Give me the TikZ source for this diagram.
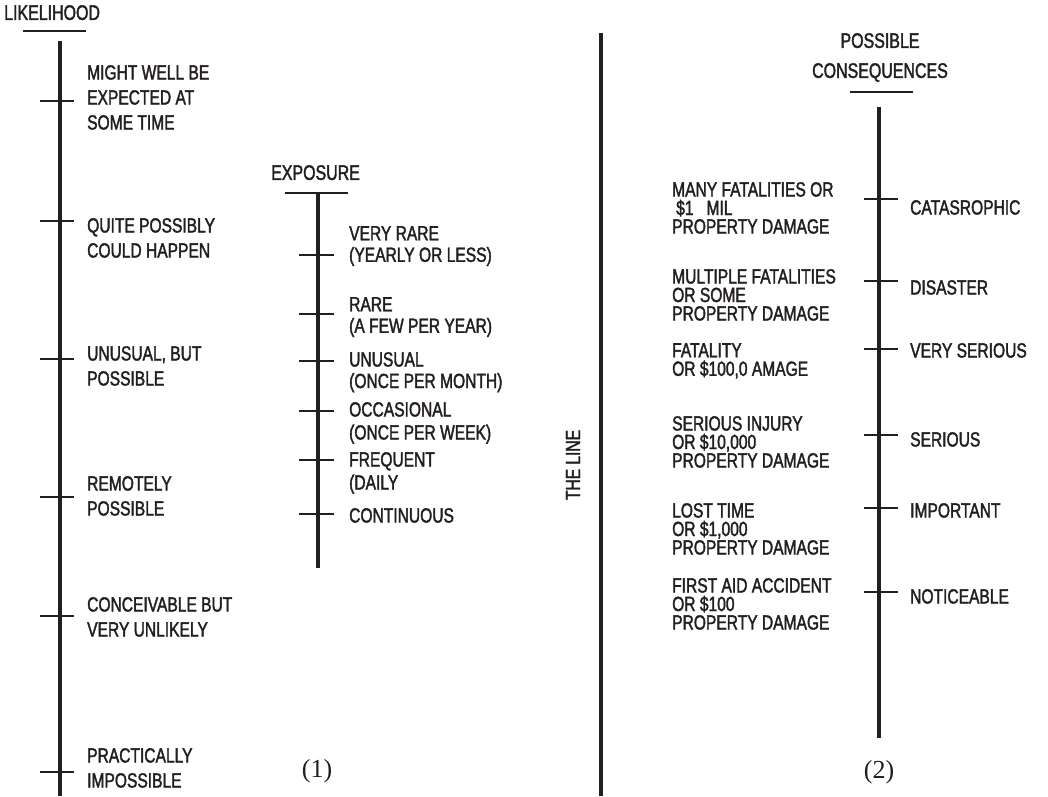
\documentclass[tikz,border=0pt]{standalone}
\usepackage{fontspec}
\setmainfont[FakeStretch=0.76,FakeBold=1.8]{Liberation Sans}
\newfontfamily\numserif{Liberation Serif}
\definecolor{ink}{HTML}{231F20}
\begin{document}
\begin{tikzpicture}[x=1pt,y=-1pt,
  axis/.style={line width=3.8pt,draw=ink},
  tickmark/.style={line width=1.2pt,draw=ink},
  bar/.style={line width=2.2pt,draw=ink},
  lab/.style={anchor=north west,inner sep=0pt,align=left,text=ink,font=\fontsize{20.5}{25}\selectfont},
  labx/.style={lab,font=\fontsize{20.5}{21.5}\selectfont},
  labc/.style={lab,font=\fontsize{20.5}{18.5}\selectfont},
  head/.style={lab,font=\fontsize{21}{30}\selectfont},
  num/.style={inner sep=0pt,text=ink,font=\numserif\fontsize{26}{30}\selectfont}]
\useasboundingbox (0,0) rectangle (1048,796);

% ---------- LIKELIHOOD ----------
\node[head] (likt) at (4,5) {LIKELIHOOD};
\draw[bar] (23,31) -- (86,31);
\draw[axis] (60,41) -- (60,796);
\foreach \y in {101,221,359,497,616,772} \draw[tickmark] (40,\y) -- (74,\y);
\node[lab] (l1) at (87,65) {MIGHT WELL BE\\EXPECTED AT\\SOME TIME};
\node[lab] (l2) at (87,218) {QUITE POSSIBLY\\COULD HAPPEN};
\node[lab] (l3) at (87,346) {UNUSUAL, BUT\\POSSIBLE};
\node[lab] (l4) at (87,476) {REMOTELY\\POSSIBLE};
\node[lab] (l5) at (87,597) {CONCEIVABLE BUT\\VERY UNLIKELY};
\node[lab] (l6) at (87,748) {PRACTICALLY\\IMPOSSIBLE};

% ---------- EXPOSURE ----------
\node[head] (expt) at (271,165) {EXPOSURE};
\draw[bar] (285,193) -- (348,193);
\draw[axis] (318,193) -- (318,568);
\foreach \y in {255,314,361,411,460,514} \draw[tickmark] (299,\y) -- (334,\y);
\node[labx] (e1) at (349,226) {VERY RARE\\(YEARLY OR LESS)};
\node[labx] (e2) at (349,297) {RARE\\(A FEW PER YEAR)};
\node[labx] (e3) at (349,352) {UNUSUAL\\(ONCE PER MONTH)};
\node[labx,font=\fontsize{20.5}{23}\selectfont] (e4) at (349,402) {OCCASIONAL\\(ONCE PER WEEK)};
\node[labx,font=\fontsize{20.5}{23}\selectfont] (e5) at (349,452) {FREQUENT\\(DAILY};
\node[labx] (e6) at (349,508) {CONTINUOUS};
\node[num] (n1) at (317,771) {(1)};

% ---------- THE LINE ----------
\draw[axis] (601,33) -- (601,796);
\node[inner sep=0pt,text=ink,rotate=90,font=\fontsize{20.5}{25}\selectfont] (line) at (573,465) {THE LINE};

% ---------- POSSIBLE CONSEQUENCES ----------
\node[head,anchor=north,align=center] (cont) at (880,33) {POSSIBLE\\CONSEQUENCES};
\draw[bar] (850,92) -- (913,92);
\draw[axis] (879,107) -- (879,738);
\foreach \y in {199,281,349,435,508,592} \draw[tickmark] (864,\y) -- (898,\y);
\node[labc] (c1) at (672,182) {MANY FATALITIES OR\\\hspace*{4pt}\$1\hspace*{13pt}MIL\\PROPERTY DAMAGE};
\node[labc] (c2) at (672,269) {MULTIPLE FATALITIES\\OR SOME\\PROPERTY DAMAGE};
\node[labc] (c3) at (672,343) {FATALITY\\OR \$100,0 AMAGE};
\node[labc] (c4) at (672,416) {SERIOUS INJURY\\OR \$10,000\\PROPERTY DAMAGE};
\node[labc] (c5) at (672,503) {LOST TIME\\OR \$1,000\\PROPERTY DAMAGE};
\node[labc] (c6) at (672,578) {FIRST AID ACCIDENT\\OR \$100\\PROPERTY DAMAGE};
\node[lab] (r1) at (910,200) {CATASROPHIC};
\node[lab] (r2) at (910,280) {DISASTER};
\node[lab] (r3) at (910,343) {VERY SERIOUS};
\node[lab] (r4) at (910,432) {SERIOUS};
\node[lab] (r5) at (910,503) {IMPORTANT};
\node[lab] (r6) at (910,589) {NOTICEABLE};
\node[num] (n2) at (879,772) {(2)};
\end{tikzpicture}
\end{document}
